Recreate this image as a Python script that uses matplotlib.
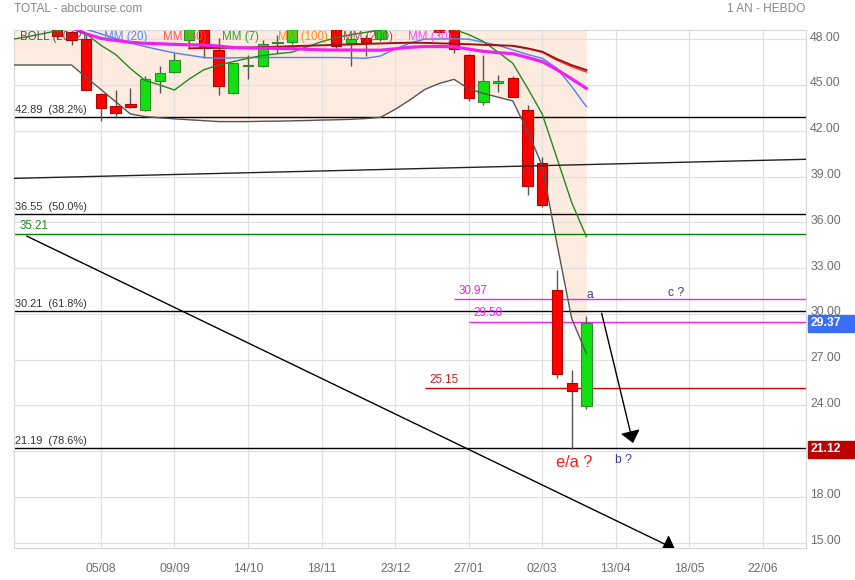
import numpy as np
import matplotlib
matplotlib.use('Agg')
import matplotlib.pyplot as plt
from matplotlib import transforms
from matplotlib.patches import Rectangle, FancyArrowPatch

plt.rcParams['font.family'] = ['Liberation Sans', 'DejaVu Sans']

# semaines (0 = semaine du 05/08)
semaines = np.arange(-6, 34)
ouv = [49.3, 49.6, 49.2, 48.9, 48.45, 48.0, 44.41, 43.64, 43.75, 43.36,
       45.28, 45.87, 47.95, 49.0, 47.29, 44.45, 46.22, 46.26, 47.73, 47.8,
       48.9, 49.3, 49.1, 47.73, 48.06, 48.0, 49.0, 49.5, 49.3, 49.0,
       48.9, 46.96, 43.9, 45.1, 45.44, 43.36, 39.91, 31.57, 25.49, 23.98]
haut = [49.9, 50.0, 49.6, 49.2, 48.8, 48.4, 44.5, 44.67, 44.82, 45.59,
        46.26, 47.08, 49.0, 49.3, 48.06, 46.45, 46.96, 47.95, 48.27, 49.0,
        49.6, 49.8, 49.4, 48.4, 48.3, 49.2, 49.8, 50.0, 49.7, 49.2,
        49.1, 47.0, 46.96, 45.65, 45.6, 43.69, 40.3, 32.88, 26.32, 29.86]
bas = [48.9, 49.0, 48.7, 48.0, 47.6, 44.65, 42.66, 42.82, 43.5, 43.3,
       44.45, 45.8, 47.5, 46.8, 44.34, 44.39, 45.37, 46.2, 47.08, 47.7,
       48.7, 48.8, 47.4, 46.27, 46.92, 47.9, 48.8, 49.0, 48.7, 48.3,
       47.08, 43.95, 43.69, 44.56, 44.2, 37.79, 37.0, 25.78, 21.12, 23.77]
clot = [49.6, 49.2, 48.9, 48.2, 47.95, 44.7, 43.47, 43.18, 43.54, 45.39,
        45.77, 46.64, 48.8, 47.54, 44.95, 46.42, 46.3, 47.67, 47.8, 48.9,
        49.3, 49.1, 47.57, 47.99, 47.84, 49.0, 49.5, 49.3, 49.0, 48.5,
        47.34, 44.13, 45.26, 45.26, 44.23, 38.38, 37.13, 26.04, 24.96, 29.37]

# indicateurs
boll_bas = [46.31, 46.31, 46.31, 46.31, 46.31, 45.5, 44.7, 43.9, 43.1, 42.93,
            42.85, 42.78, 42.72, 42.66, 42.6, 42.6, 42.6, 42.62, 42.63, 42.65,
            42.67, 42.7, 42.72, 42.75, 42.8, 42.88, 43.4, 44.02, 44.7, 45.1,
            45.37, 44.75, 44.45, 44.2, 43.95, 41.98, 39.7, 34.6, 29.7, 27.4]
mm30 = [49.3, 49.2, 49.1, 48.95, 48.75, 48.35, 48.05, 47.92, 47.8, 47.73,
        47.7, 47.66, 47.63, 47.62, 47.55, 47.45, 47.42, 47.41, 47.4, 47.38,
        47.34, 47.3, 47.29, 47.29, 47.28, 47.28, 47.37, 47.47, 47.52, 47.52,
        47.5, 47.35, 47.2, 47.12, 47.05, 46.8, 46.53, 46.0, 45.4, 44.78]
mm20 = [49.5, 49.4, 49.3, 49.1, 48.9, 48.65, 48.35, 48.05, 47.75, 47.52,
        47.3, 47.1, 46.95, 46.8, 46.75, 46.78, 46.8, 46.8, 46.8, 46.8,
        46.8, 46.8, 46.8, 46.78, 46.75, 46.9, 47.35, 47.75, 48.0, 48.02,
        48.03, 48.0, 47.8, 47.6, 47.3, 47.0, 46.75, 46.1, 44.9, 43.58]
mm7 = [48.0, 48.16, 48.35, 48.55, 48.7, 48.35, 47.6, 47.0, 46.08, 45.3,
       45.0, 44.67, 45.39, 46.0, 46.3, 46.53, 46.75, 46.93, 47.05, 47.15,
       47.5, 47.84, 48.1, 48.3, 48.45, 48.62, 48.8, 49.0, 49.0, 48.9,
       48.65, 48.3, 47.85, 47.15, 46.42, 44.8, 43.1, 40.2, 37.3, 35.06]
sem_mm200 = np.arange(6, 34)
mm200 = [47.4, 47.42, 47.43, 47.44, 47.45, 47.48, 47.51, 47.54, 47.57, 47.6,
         47.63, 47.66, 47.69, 47.72, 47.75, 47.77, 47.76, 47.73, 47.7, 47.67,
         47.63, 47.6, 47.57, 47.4, 47.18, 46.7, 46.3, 45.98]
sem_mm50 = np.arange(28, 34)
mm50 = [47.55, 47.38, 47.15, 46.62, 46.2, 45.85]

# niveaux et tracés
fibo = [42.89, 36.55, 30.21, 21.19]
fibo_pct = ['38.2%', '50.0%', '61.8%', '78.6%']
support = 35.21
niveaux_part = [(30.97, 24, '#ee22ee', '#ee22ee'),
                (29.50, 25, '#ee22ee', '#ee22ee'),
                (25.15, 22, '#dd0000', '#cc2222')]
oblique = [(-5.91, 38.88), (47.93, 40.13)]
fleche_longue = [(-5.05, 35.1), (39.02, 14.59)]
fleche_courte = [(34.04, 30.04), (36.17, 21.54)]

dates = ['05/08', '09/09', '14/10', '18/11', '23/12', '27/01', '02/03', '13/04', '18/05', '22/06']
pos_dates = np.arange(0, 50, 5)

fig = plt.figure(figsize=(8.55, 5.8), dpi=100)
ax = fig.add_axes([14 / 855, 1 - 548 / 580, 792 / 855, 518 / 580])
xmin, xmax = -5.91, 47.93
ax.set_xlim(xmin, xmax)
ax.set_ylim(14.657, 48.603)

# bande de Bollinger
ax.fill_between(semaines, boll_bas, 60, color='#fdebdf', lw=0, zorder=0.2)
ax.plot(semaines, boll_bas, color='#555555', lw=1, zorder=4)

# grille
ax.set_axisbelow(True)
ax.grid(True, color='#e0e0e0', lw=0.9)
ax.set_yticks(np.arange(15, 49, 3))
ax.set_yticklabels(['%.2f' % v for v in np.arange(15, 49, 3)])
ax.set_xticks(pos_dates)
ax.set_xticklabels(dates)
ax.yaxis.tick_right()
ax.tick_params(axis='y', length=0, pad=3, labelcolor='#6e6e6e', labelsize=8.8)
ax.tick_params(axis='x', length=0, pad=10.5, labelcolor='#6e6e6e', labelsize=8.7)
decal = transforms.ScaledTranslation(0, 3 / 100, fig.dpi_scale_trans)
for lab in ax.get_yticklabels():
    lab.set_transform(lab.get_transform() + decal)
for sp in ax.spines.values():
    sp.set_color('#d8d8d8')

# chandeliers
for x, o, h, l, c in zip(semaines, ouv, haut, bas, clot):
    ax.vlines(x, l, h, color='#555555', lw=1, zorder=2.5)
    if c >= o:
        ax.bar(x, max(c - o, 0.06), bottom=o, width=0.7, color='#11e011', edgecolor='#2d8a2d', lw=0.8, zorder=3)
    else:
        ax.bar(x, max(o - c, 0.06), bottom=c, width=0.7, color='#ff0000', edgecolor='#b00000', lw=0.8, zorder=3)

# moyennes mobiles
ax.plot(semaines, mm20, color='#4f7ff5', lw=1, zorder=4)
ax.plot(semaines, mm7, color='#1e8b1e', lw=1, zorder=4)
ax.plot(sem_mm50, mm50, color='#ff3030', lw=1, zorder=4)
ax.plot(sem_mm200, mm200, color='#a01010', lw=1.4, zorder=4)
ax.plot(semaines, mm30, color='#f020f0', lw=2.3, zorder=4)

# légende
leg_txt = ['BOLL (20, 2)', 'MM (20)', 'MM (50)', 'MM (7)', 'MM (100)', 'MM (200)', 'MM (30)']
leg_col = ['#555555', '#5588ff', '#ff5555', '#339933', '#ff8c1a', '#a05050', '#ff44ff']
leg_x = [20, 104, 163, 222, 278, 343, 408]
for t, c, px in zip(leg_txt, leg_col, leg_x):
    ax.text((px - 14) / 792, (548 - 37) / 518, t, color=c, fontsize=8.3, va='center',
            ha='left', transform=ax.transAxes, zorder=4.5)

# niveaux de Fibonacci
for v, p in zip(fibo, fibo_pct):
    ax.axhline(v, color='black', lw=1, zorder=2)
    ax.annotate('%.2f  (%s)' % (v, p), xy=(xmin, v), xytext=(0.5, 1.5), textcoords='offset points',
                fontsize=7.9, color='#333333', va='bottom', ha='left', zorder=5)
ax.axhline(support, color='#008000', lw=1, zorder=2)
ax.annotate('%.2f' % support, xy=(xmin, support), xytext=(4, 1.5), textcoords='offset points',
            fontsize=8.4, color='#228b22', va='bottom', ha='left', zorder=5)
for v, x0, cl, ct in niveaux_part:
    ax.hlines(v, x0, xmax, color=cl, lw=1, zorder=2)
    ax.annotate('%.2f' % v, xy=(x0, v), xytext=(3.5, 1.5), textcoords='offset points',
                fontsize=8.4, color=ct, va='bottom', ha='left', zorder=5)

# tracés
ax.plot([p[0] for p in oblique], [p[1] for p in oblique], color='#222222', lw=1, zorder=4)
for seg in [fleche_longue, fleche_courte]:
    fl = FancyArrowPatch(seg[0], seg[1], arrowstyle='-|>,head_length=0.72,head_width=0.6',
                         mutation_scale=10, color='black', lw=1, shrinkA=0, shrinkB=0, zorder=4)
    ax.add_patch(fl)

ax.text(33.25, 31.24, 'a', color='#3a3aa0', fontsize=8.7, ha='center', va='center', zorder=5)
ax.text(39.1, 31.37, 'c ?', color='#3a3aa0', fontsize=8.7, ha='center', va='center', zorder=5)
ax.text(35.55, 20.42, 'b ?', color='#3a3aa0', fontsize=8.7, ha='center', va='center', zorder=5)
ax.text(32.2, 20.23, 'e/a ?', color='#ff1a1a', fontsize=11.8, ha='center', va='center', zorder=5)

# étiquettes de prix à droite
mix = transforms.blended_transform_factory(fig.transFigure, ax.transData)
for v, c in [(29.37, '#3a6ef5'), (21.12, '#bb0000')]:
    ax.add_patch(Rectangle((808 / 855, v - 0.557), 47 / 855, 1.114, transform=mix,
                           color=c, clip_on=False, zorder=6))
    ax.text(811 / 855, v, '%.2f' % v, transform=mix, color='white', fontsize=8.7,
            fontweight='bold', va='center', ha='left', zorder=7, clip_on=False)

fig.text(14 / 855, 1 - 8.5 / 580, 'TOTAL - abcbourse.com', color='#888888', fontsize=8.6, va='center')
fig.text(805 / 855, 1 - 8.5 / 580, '1 AN - HEBDO', color='#888888', fontsize=8.6, va='center', ha='right')

plt.savefig('out.png', dpi=100)
